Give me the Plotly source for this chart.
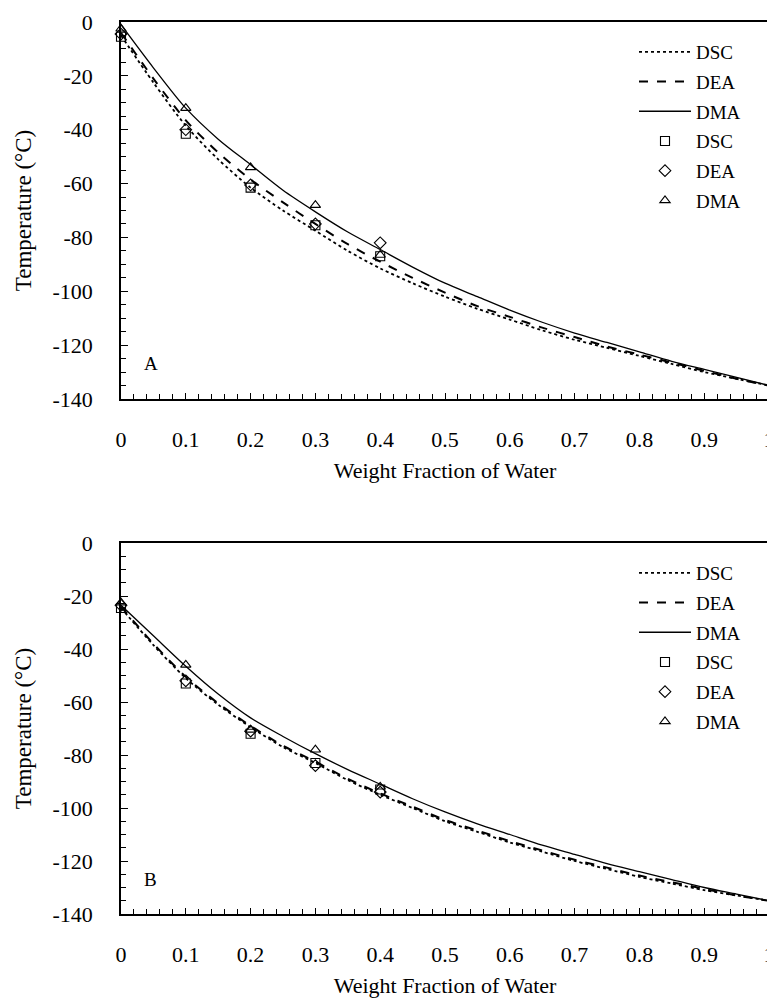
import plotly.graph_objects as go

# ---------------- data ----------------
x_curve = [0, 0.05, 0.1, 0.15, 0.2, 0.25, 0.3, 0.35, 0.4, 0.45, 0.5,
           0.55, 0.6, 0.65, 0.7, 0.75, 0.8, 0.85, 0.9, 0.95, 1.0]

# Panel A fitted curves
dsc_curve_a = [-5, -22.5, -38.5, -51, -61.5, -70, -77.5, -85, -91.5, -97, -102,
               -106.5, -110.5, -114.5, -118, -121, -124, -127, -130, -132.5, -135]
dea_curve_a = [-4, -21, -36.5, -48.5, -58.5, -67, -75, -82.5, -89, -95, -100.5,
               -105.5, -109.5, -113.5, -117, -120.5, -123.5, -126.5, -129.5, -132.5, -135]
dma_curve_a = [-1, -17, -32, -43.5, -53, -62.5, -70.5, -78, -84.5, -91, -97,
               -102, -107, -111.5, -115.5, -119, -122.5, -126, -129, -132, -135]

# Panel B fitted curves
dsc_curve_b = [-24.5, -38.5, -51, -61, -69.5, -77, -83, -89.5, -95, -100, -105,
               -109, -113, -116.5, -120, -123, -126, -128.5, -131, -133, -135]
dea_curve_b = [-24, -38, -50.5, -60.5, -69, -76.5, -82.5, -89, -94.5, -99.5, -104.5,
               -108.5, -112.5, -116, -119.5, -122.5, -125.5, -128, -130.5, -133, -135]
dma_curve_b = [-23.5, -35, -46.5, -57, -66, -73, -79.5, -85.5, -91, -96.5, -101.5,
               -106, -110, -114, -117.5, -121, -124, -127, -130, -132.5, -135]

# measured points
x_pts = [0, 0.1, 0.2, 0.3, 0.4]
dsc_pts_a = [-5.5, -41.5, -61.5, -75.5, -87]
dea_pts_a = [-4.5, -40, -60.5, -75, -82]
dma_pts_a = [-2.5, -32, -54, -68, -86.5]
dsc_pts_b = [-24.5, -53, -72, -83, -93]
dea_pts_b = [-23.5, -52, -71, -84, -94]
dma_pts_b = [-22.5, -46, -70.5, -78, -92]

series_names = ["DSC", "DEA", "DMA"]
y_tickvals = [0, -20, -40, -60, -80, -100, -120, -140]
y_ticktext = ["0", "-20", "-40", "-60", "-80", "-100", "-120", "-140"]
x_tickvals = [0, 0.1, 0.2, 0.3, 0.4, 0.5, 0.6, 0.7, 0.8, 0.9, 1]
x_ticktext = ["0", "0.1", "0.2", "0.3", "0.4", "0.5", "0.6", "0.7", "0.8", "0.9", "1"]
x_title = "Weight Fraction of Water"
y_title = "Temperature (°C)"
panel_labels = ["A", "B"]

# ---------------- figure ----------------
FONT = "Liberation Serif, Times New Roman, Times, serif"
W, H = 775, 1001
fig = go.Figure()

dashes = ["dot", "dash", "solid"]
widths = [1.8, 2.0, 1.3]
symbols = ["square-open", "diamond-open", "triangle-up-open"]

panels = [
    ("x", "y", "legend", [dsc_curve_a, dea_curve_a, dma_curve_a], [dsc_pts_a, dea_pts_a, dma_pts_a]),
    ("x2", "y2", "legend2", [dsc_curve_b, dea_curve_b, dma_curve_b], [dsc_pts_b, dea_pts_b, dma_pts_b]),
]

for pi, (xa, ya, lg, curves, pts) in enumerate(panels):
    for i, name in enumerate(series_names):
        fig.add_trace(go.Scatter(
            x=x_curve, y=curves[i], mode="lines", name=name,
            line=dict(color="black", dash=dashes[i], width=widths[i], shape="spline", smoothing=0.8),
            xaxis=xa, yaxis=ya, legend=lg, legendgroup=f"p{pi}l{i}", cliponaxis=False,
        ))
    for i, name in enumerate(series_names):
        fig.add_trace(go.Scatter(
            x=x_pts, y=pts[i], mode="markers", name=name,
            marker=dict(symbol=symbols[i], size=9, color="black", line=dict(width=1.1, color="black")),
            xaxis=xa, yaxis=ya, legend=lg, legendgroup=f"p{pi}m{i}", cliponaxis=False,
        ))

x_dom = [113 / W, 761 / W]
dom_a = [1 - 391 / H, 1 - 14 / H]
dom_b = [1 - 906 / H, 1 - 535 / H]


def xaxis_cfg(anchor):
    return dict(
        domain=x_dom, anchor=anchor, range=[0, 1], tickmode="array",
        tickvals=x_tickvals, ticktext=x_ticktext,
        ticks="inside", ticklen=6, tickwidth=1, tickcolor="black",
        minor=dict(dtick=0.02, tick0=0, ticks="inside", ticklen=5, tickwidth=1, tickcolor="black"),
        showline=True, linewidth=1.5, linecolor="black", mirror=True,
        showgrid=False, zeroline=False, automargin=False,
        ticklabelstandoff=20,
        tickfont=dict(family=FONT, size=22, color="black"),
        title=dict(text=x_title, standoff=11, font=dict(family=FONT, size=22, color="black")),
    )


def yaxis_cfg(anchor, dom):
    return dict(
        domain=dom, anchor=anchor, range=[-140, 0], tickmode="array",
        tickvals=y_tickvals, ticktext=y_ticktext,
        ticks="inside", ticklen=7, tickwidth=1, tickcolor="black",
        minor=dict(dtick=5, tick0=0, ticks="inside", ticklen=5, tickwidth=1, tickcolor="black"),
        showline=True, linewidth=1.5, linecolor="black", mirror=True,
        showgrid=False, zeroline=False, automargin=False,
        ticklabelstandoff=22,
        tickfont=dict(family=FONT, size=22, color="black"),
        title=dict(text=y_title, standoff=14, font=dict(family=FONT, size=23, color="black")),
    )


legend_common = dict(
    xanchor="left", yanchor="top", bgcolor="rgba(0,0,0,0)", borderwidth=0,
    font=dict(family=FONT, size=19, color="black"), itemwidth=52,
    traceorder="grouped", tracegroupgap=2,
)

fig.update_layout(
    width=W, height=H,
    margin=dict(l=0, r=0, t=0, b=0),
    paper_bgcolor="white", plot_bgcolor="white",
    font=dict(family=FONT, color="black"),
    xaxis=xaxis_cfg("y"), yaxis=yaxis_cfg("x", dom_a),
    xaxis2=xaxis_cfg("y2"), yaxis2=yaxis_cfg("x2", dom_b),
    legend=dict(x=626 / W, y=1 - 25 / H, **legend_common),
    legend2=dict(x=626 / W, y=1 - 546 / H, **legend_common),
    showlegend=True,
    annotations=[
        dict(text=panel_labels[0], x=0.046, y=-127, xref="x", yref="y", showarrow=False,
             font=dict(family=FONT, size=19, color="black")),
        dict(text=panel_labels[1], x=0.046, y=-127, xref="x2", yref="y2", showarrow=False,
             font=dict(family=FONT, size=19, color="black")),
    ],
)

fig.write_html("out.html")
